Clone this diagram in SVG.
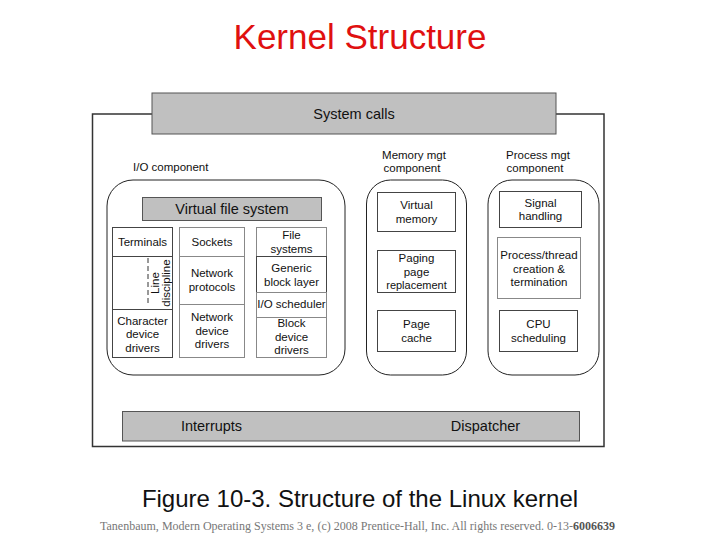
<svg xmlns="http://www.w3.org/2000/svg" width="720" height="540" viewBox="0 0 720 540">
<style>
  text { font-family: "Liberation Sans", Arial, sans-serif; fill: #111; }
  .lbl { font-size: 11.5px; text-anchor: middle; }
  .big { font-size: 14.5px; text-anchor: middle; }
  .bar { fill: #c0c0c0; stroke: #555; stroke-width: 1; }
  .cell { fill: #fff; stroke: #444; stroke-width: 1; }
  .cellg { fill: #fff; stroke: #888; stroke-width: 1; }
  .comp { fill: #fff; stroke: #222; stroke-width: 1; }
</style>
<rect width="720" height="540" fill="#fff"/>
<text x="360" y="49" style="font-size:35px;fill:#e01010;text-anchor:middle">Kernel Structure</text>

<g id="frame">
  <path d="M152,114 H92.5 V446.5 H604 V114 H556" fill="none" stroke="#333" stroke-width="1.5"/>
</g>

<g id="system-calls">
  <rect class="bar" x="152" y="93" width="404" height="41"/>
  <text class="big" x="354" y="119">System calls</text>
</g>

<g id="io-component">
  <text x="133" y="171" style="font-size:11.5px">I/O component</text>
  <rect class="comp" x="107" y="180" width="238" height="195" rx="26" ry="26"/>
</g>
<g id="virtual-file-system">
  <rect class="bar" x="142.5" y="197.5" width="179" height="23"/>
  <text class="big" x="232" y="214">Virtual file system</text>
</g>

<g id="terminals">
  <rect class="cell" x="112.5" y="227.5" width="60" height="29"/>
  <text class="lbl" x="142.5" y="246">Terminals</text>
</g>
<g id="line-discipline">
  <rect class="cell" x="112.5" y="256.5" width="60" height="53"/>
  <line x1="148" y1="258" x2="148" y2="306" stroke="#333" stroke-dasharray="5,3"/>
  <text class="lbl" transform="translate(159,283) rotate(-90)">Line</text>
  <text class="lbl" transform="translate(170,283) rotate(-90)">discipline</text>
</g>
<g id="character-device-drivers">
  <rect class="cell" x="112.5" y="309.5" width="60" height="48"/>
  <text class="lbl" x="142.5" y="325">Character</text>
  <text class="lbl" x="142.5" y="338">device</text>
  <text class="lbl" x="142.5" y="352">drivers</text>
</g>

<g id="sockets">
  <rect class="cellg" x="179.5" y="227.5" width="65" height="29"/>
  <text class="lbl" x="212" y="246">Sockets</text>
</g>
<g id="network-protocols">
  <rect class="cellg" x="179.5" y="256.5" width="65" height="48"/>
  <text class="lbl" x="212" y="277">Network</text>
  <text class="lbl" x="212" y="291">protocols</text>
</g>
<g id="network-device-drivers">
  <rect class="cellg" x="179.5" y="304.5" width="65" height="53"/>
  <text class="lbl" x="212" y="321">Network</text>
  <text class="lbl" x="212" y="335">device</text>
  <text class="lbl" x="212" y="348">drivers</text>
</g>

<g id="file-systems">
  <rect class="cellg" x="256.5" y="227.5" width="70" height="29"/>
  <text class="lbl" x="291.5" y="239">File</text>
  <text class="lbl" x="291.5" y="253">systems</text>
</g>
<g id="generic-block-layer">
  <rect class="cell" x="256.5" y="256.5" width="70" height="36"/>
  <text class="lbl" x="291.5" y="272">Generic</text>
  <text class="lbl" x="291.5" y="286">block layer</text>
</g>
<g id="io-scheduler">
  <rect class="cellg" x="256.5" y="292.5" width="70" height="25"/>
  <text class="lbl" x="291.5" y="308">I/O scheduler</text>
</g>
<g id="block-device-drivers">
  <rect class="cellg" x="256.5" y="317.5" width="70" height="40"/>
  <text class="lbl" x="291.5" y="327">Block</text>
  <text class="lbl" x="291.5" y="341">device</text>
  <text class="lbl" x="291.5" y="354">drivers</text>
</g>

<g id="memory-mgt-component">
  <text class="lbl" x="414" y="159">Memory mgt</text>
  <text class="lbl" x="412" y="172">component</text>
  <rect class="comp" x="366.5" y="180" width="100" height="195" rx="24" ry="24"/>
</g>
<g id="virtual-memory">
  <rect class="cell" x="377.5" y="192.5" width="78" height="39"/>
  <text class="lbl" x="416.5" y="209">Virtual</text>
  <text class="lbl" x="416.5" y="223">memory</text>
</g>
<g id="paging">
  <rect class="cell" x="377.5" y="250.5" width="78" height="42"/>
  <text class="lbl" x="416.5" y="262">Paging</text>
  <text class="lbl" x="416.5" y="276">page</text>
  <text class="lbl" x="416.5" y="289" style="font-size:11px">replacement</text>
</g>
<g id="page-cache">
  <rect class="cell" x="377.5" y="310.5" width="78" height="41"/>
  <text class="lbl" x="416.5" y="328">Page</text>
  <text class="lbl" x="416.5" y="342">cache</text>
</g>

<g id="process-mgt-component">
  <text class="lbl" x="538" y="159">Process mgt</text>
  <text class="lbl" x="535" y="172">component</text>
  <rect class="comp" x="488" y="180" width="111" height="195" rx="24" ry="24"/>
</g>
<g id="signal-handling">
  <rect class="cell" x="499.5" y="191.5" width="82" height="36"/>
  <text class="lbl" x="540.5" y="207">Signal</text>
  <text class="lbl" x="540.5" y="220">handling</text>
</g>
<g id="process-thread">
  <rect class="cellg" x="497.5" y="237.5" width="83" height="61"/>
  <text class="lbl" x="539" y="259">Process/thread</text>
  <text class="lbl" x="539" y="273">creation &amp;</text>
  <text class="lbl" x="539" y="286">termination</text>
</g>
<g id="cpu-scheduling">
  <rect class="cell" x="499.5" y="310.5" width="78" height="41"/>
  <text class="lbl" x="538.5" y="328">CPU</text>
  <text class="lbl" x="538.5" y="342">scheduling</text>
</g>

<g id="interrupts-dispatcher">
  <rect class="bar" x="122.5" y="411.5" width="457" height="29.5"/>
  <text class="big" x="211.5" y="431">Interrupts</text>
  <text class="big" x="485.5" y="431">Dispatcher</text>
</g>

<g id="connectors"></g>

<text x="360" y="507" style="font-size:24px;text-anchor:middle">Figure 10-3. Structure of the Linux kernel</text>
<text x="100" y="530" textLength="515" lengthAdjust="spacingAndGlyphs" style="font-family:'Liberation Serif','Times New Roman',serif;font-size:12px;fill:#777">Tanenbaum, Modern Operating Systems 3 e, (c) 2008 Prentice-Hall, Inc. All rights reserved. 0-13-<tspan style="font-weight:bold;fill:#555">6006639</tspan></text>
</svg>
